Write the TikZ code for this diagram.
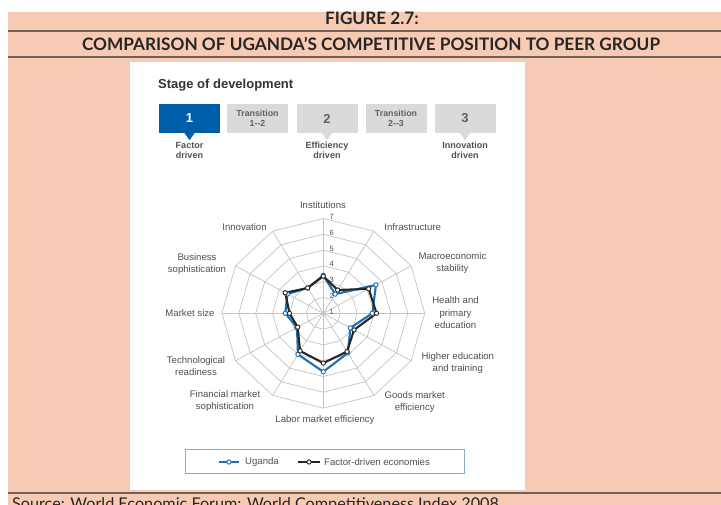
\documentclass[tikz,border=0pt]{standalone}
\usepackage{fontspec}
\setmainfont{Lato}
\newfontfamily\chartfont{Liberation Sans}
\usetikzlibrary{positioning}
\definecolor{peach}{RGB}{247,202,179}
\definecolor{rulegray}{RGB}{112,96,88}
\definecolor{wefblue}{RGB}{0,94,168}
\definecolor{ugblue}{RGB}{30,112,180}
\definecolor{boxgray}{RGB}{218,218,218}
\definecolor{txtgray}{RGB}{80,80,80}
\definecolor{gridgray}{RGB}{195,195,195}
\definecolor{legendblue}{RGB}{135,172,206}
\tikzset{
  titletext/.style={font=\bfseries\fontsize{17.2}{17.2}\selectfont, text=black!85, inner sep=0pt},
  stagebox/.style={minimum width=61pt, minimum height=29pt, inner sep=0pt, fill=boxgray, text=txtgray!90,
    font=\chartfont\bfseries\fontsize{8.8}{9.5}\selectfont, align=center},
  stagenum/.style={font=\chartfont\bfseries\fontsize{13}{13}\selectfont},
  stagelabel/.style={font=\chartfont\bfseries\fontsize{9}{10}\selectfont, text=txtgray, align=center, inner sep=0pt},
  axislabel/.style={font=\chartfont\fontsize{9.6}{12.5}\selectfont, text=txtgray, align=center, inner sep=0pt},
  ringlabel/.style={font=\chartfont\fontsize{7.5}{7.5}\selectfont, text=txtgray, inner sep=0pt},
  gridline/.style={gridgray, line width=0.7pt},
  dataline/.style={#1, line width=2.1pt, line join=round},
  mkdot/.style={circle, draw=#1, fill=white, line width=0.9pt, inner sep=0pt, minimum size=4.3pt}
}
\begin{document}
\begin{tikzpicture}[x=1pt, y=-1pt]
\useasboundingbox (0,0) rectangle (721,505);
\fill[peach] (8,12) rectangle (721,505);
\draw[rulegray, line width=1.4pt] (8,31) -- (721,31) (8,57) -- (721,57) (8,493) -- (721,493);
\node[titletext] (fig) at (372,18) {FIGURE 2.7:};
\node[titletext] (title) at (371,44) {COMPARISON OF UGANDA’S COMPETITIVE POSITION TO PEER GROUP};
\node[anchor=north west, inner sep=0pt, font=\fontsize{16.2}{16.2}\selectfont, text=black!85] (source) at (12,497)
  {Source: World Economic Forum: World Competitiveness Index 2008};
\fill[white] (130,62) rectangle (525,490);

\node[anchor=west, inner sep=0pt, font=\chartfont\bfseries\fontsize{13}{13}\selectfont, text=black!80] (stage) at (158,85) {Stage of development};
\node[stagebox, fill=wefblue, text=white, stagenum] (s1) at (189.5,118.5) {1};
\node[stagebox] (s2) at (257.5,118.5) {Transition\\1--2};
\node[stagebox, stagenum] (s3) at (327,118.5) {2};
\node[stagebox] (s4) at (396,118.5) {Transition\\2--3};
\node[stagebox, stagenum] (s5) at (465,118.5) {3};
\fill[wefblue] ([xshift=-5pt]s1.south) -- ([xshift=5pt]s1.south) -- ([yshift=-7pt]s1.south) -- cycle;
\fill[boxgray] ([xshift=-5pt]s3.south) -- ([xshift=5pt]s3.south) -- ([yshift=-7pt]s3.south) -- cycle;
\fill[boxgray] ([xshift=-5pt]s5.south) -- ([xshift=5pt]s5.south) -- ([yshift=-7pt]s5.south) -- cycle;
\node[stagelabel, below=9pt of s1] (l1) {Factor\\driven};
\node[stagelabel, below=9pt of s3] (l3) {Efficiency\\driven};
\node[stagelabel, below=9pt of s5] (l5) {Innovation\\driven};

\begin{scope}[shift={(323.3,313.3)}, x=16.9pt, y=15.8pt]
  \foreach \r in {1,...,6}
    \draw[gridline] (90:\r) \foreach \i in {1,...,11} {-- (90-30*\i:\r)} -- cycle;
  \foreach \i in {0,...,11}
    \draw[gridline] (0,0) -- (90-30*\i:6);
  \foreach \k in {1,...,7}
    \node[ringlabel] (ring\k) at (0.5,{\k-1+0.1}) {\k};
  \foreach \v [count=\i from 0] in {3.4,2.4,4.6,3.9,2.85,3.9,4.7,4.0,2.8,3.25,3.45,2.85}
    \coordinate (u\i) at (90-30*\i:{\v-1});
  \foreach \v [count=\i from 0] in {3.35,2.7,4.1,4.15,3.1,3.8,4.15,3.75,2.75,3.0,3.6,2.85}
    \coordinate (f\i) at (90-30*\i:{\v-1});
  \draw[dataline=ugblue] (u0) \foreach \i in {1,...,11} {-- (u\i)} -- cycle;
  \draw[dataline=black!85] (f0) \foreach \i in {1,...,11} {-- (f\i)} -- cycle;
  \foreach \i in {0,...,11} {
    \node[mkdot=ugblue] (um\i) at (u\i) {};
    \node[mkdot=black!85] (fm\i) at (f\i) {};
  }
\end{scope}

\foreach \x/\y/\t [count=\n] in {323/205/Institutions, 412.7/226.7/Infrastructure,
    452.5/263/{Macroeconomic\\stability}, 455.5/312.7/{Health and\\primary\\education},
    457.8/363/{Higher education\\and training}, 414.7/402/{Goods market\\efficiency},
    325/420/Labor market efficiency, 225/401/{Financial market\\sophistication},
    196/366.3/{Technological\\readiness}, 190/312.7/Market size,
    197/263.8/{Business\\sophistication}, 244.5/226.7/Innovation}
  \node[axislabel] (ax\n) at (\x,\y) {\t};

\node[draw=legendblue, line width=0.8pt, minimum width=279pt, minimum height=24pt, inner sep=0pt] (legend) at (325.3,461.3) {};
\coordinate (ua) at (219,462);
\coordinate (ub) at (239,462);
\coordinate (fa) at (298,462);
\coordinate (fb) at (320,462);
\draw[dataline=ugblue] (ua) -- (ub);
\node[mkdot=ugblue] (umk) at (229,462) {};
\node[axislabel, anchor=west] (uglab) at (245,462) {Uganda};
\draw[dataline=black!85] (fa) -- (fb);
\node[mkdot=black!85] (fmk) at (309,462) {};
\node[axislabel, anchor=west] (fdlab) at (324,462) {Factor-driven economies};
\end{tikzpicture}
\end{document}
